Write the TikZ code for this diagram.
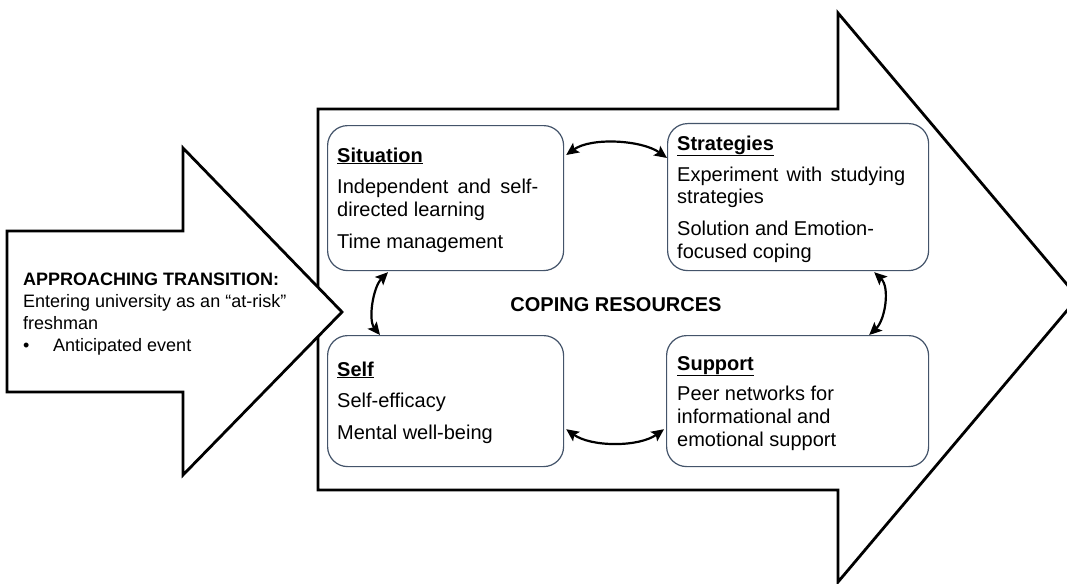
\documentclass[tikz,border=0pt]{standalone}
\usepackage{fontspec}
\setmainfont{Liberation Sans}
\usetikzlibrary{arrows.meta}
\definecolor{boxline}{RGB}{68,84,106}
\begin{document}
\begin{tikzpicture}[x=1pt,y=-1pt,
  outline/.style={draw=black, line width=2.8pt, fill=white, line join=miter},
  boxstyle/.style={draw=boxline, line width=1.2pt, rounded corners=20pt, fill=white, inner sep=0pt, anchor=north west},
  conn/.style={draw=black, line width=2.2pt, {Stealth[length=12.5pt,width=11.5pt,inset=2.5pt]}-{Stealth[length=12.5pt,width=11.5pt,inset=2.5pt]}},
  bodytext/.style={anchor=base west, inner sep=0pt, font=\fontsize{20}{24}\selectfont},
  titletext/.style={anchor=base west, inner sep=0pt, font=\fontsize{20}{24}\selectfont\bfseries},
  smalltext/.style={anchor=base west, inner sep=0pt, font=\fontsize{18}{22}\selectfont}]
\useasboundingbox (0,0) rectangle (1067,583);
\clip (0,0) rectangle (1067,583);
% big arrow
\draw[outline] (318,109) -- (838,109) -- (838,13) -- (1078,297.5) -- (838,582) -- (838,490) -- (318,490) -- cycle;
% small arrow
\draw[outline] (7,231) -- (183,231) -- (183,148) -- (342,312) -- (183,475) -- (183,392) -- (7,392) -- cycle;
% boxes
\node[boxstyle, minimum width=236pt, minimum height=145pt] (sit) at (327,125) {};
\node[boxstyle, minimum width=261pt, minimum height=147pt] (str) at (667,123) {};
\node[boxstyle, minimum width=236pt, minimum height=131pt] (self) at (327,335) {};
\node[boxstyle, minimum width=262pt, minimum height=131pt] (sup) at (666,335) {};
% connectors
\draw[conn] ([shift={(2,30)}]sit.north east) .. controls +(25,-18) and +(-25,-18) .. ([shift={(0,35)}]str.north west);
\draw[conn] ([shift={(2,-38)}]self.south east) .. controls +(25,18) and +(-25,18) .. ([shift={(-2,-38)}]sup.south west);
\draw[conn] ([shift={(61,1)}]sit.south west) .. controls +(-15,15) and +(-12,-15) .. ([shift={(53,0)}]self.north west);
\draw[conn] ([shift={(-55,1)}]str.south east) .. controls +(16,15) and +(16,-15) .. ([shift={(-60,0)}]sup.north east);
% Situation
\node[titletext] (sitT) at (337,162) {\underline{Situation}};
\node[bodytext] (sit1) at (337,193) {\makebox[201pt][s]{Independent and self-}};
\node[bodytext] (sit2) at (337,216) {directed learning};
\node[bodytext] (sit3) at (337,248) {Time management};
% Strategies
\node[titletext] (strT) at (677,150) {\underline{Strategies}};
\node[bodytext] (str1) at (677,181) {\makebox[228pt][s]{Experiment with studying}};
\node[bodytext] (str2) at (677,203) {strategies};
\node[bodytext] (str3) at (677,235) {Solution and Emotion-};
\node[bodytext] (str4) at (677,258) {focused coping};
% Self
\node[titletext] (selfT) at (337,376) {\underline{Self}};
\node[bodytext] (self1) at (337,407) {Self-efficacy};
\node[bodytext] (self2) at (337,439) {Mental well-being};
% Support
\node[titletext] (supT) at (677,370) {\underline{Support}};
\node[bodytext] (sup1) at (677,400) {Peer networks for};
\node[bodytext] (sup2) at (677,423) {informational and};
\node[bodytext] (sup3) at (677,446) {emotional support};
% centre label
\node[anchor=base, inner sep=0pt, font=\fontsize{20}{24}\selectfont\bfseries] (cope) at (616,311) {COPING RESOURCES};
% transition text
\node[smalltext, font=\fontsize{18}{22}\selectfont\bfseries] (tr0) at (23,285) {APPROACHING TRANSITION:};
\node[smalltext] (tr1) at (23,307) {Entering university as an “at-risk”};
\node[smalltext] (tr2) at (23,329) {freshman};
\node[smalltext] (tr3) at (23,351) {•};
\node[smalltext] (tr4) at (53,351) {Anticipated event};
\end{tikzpicture}
\end{document}
